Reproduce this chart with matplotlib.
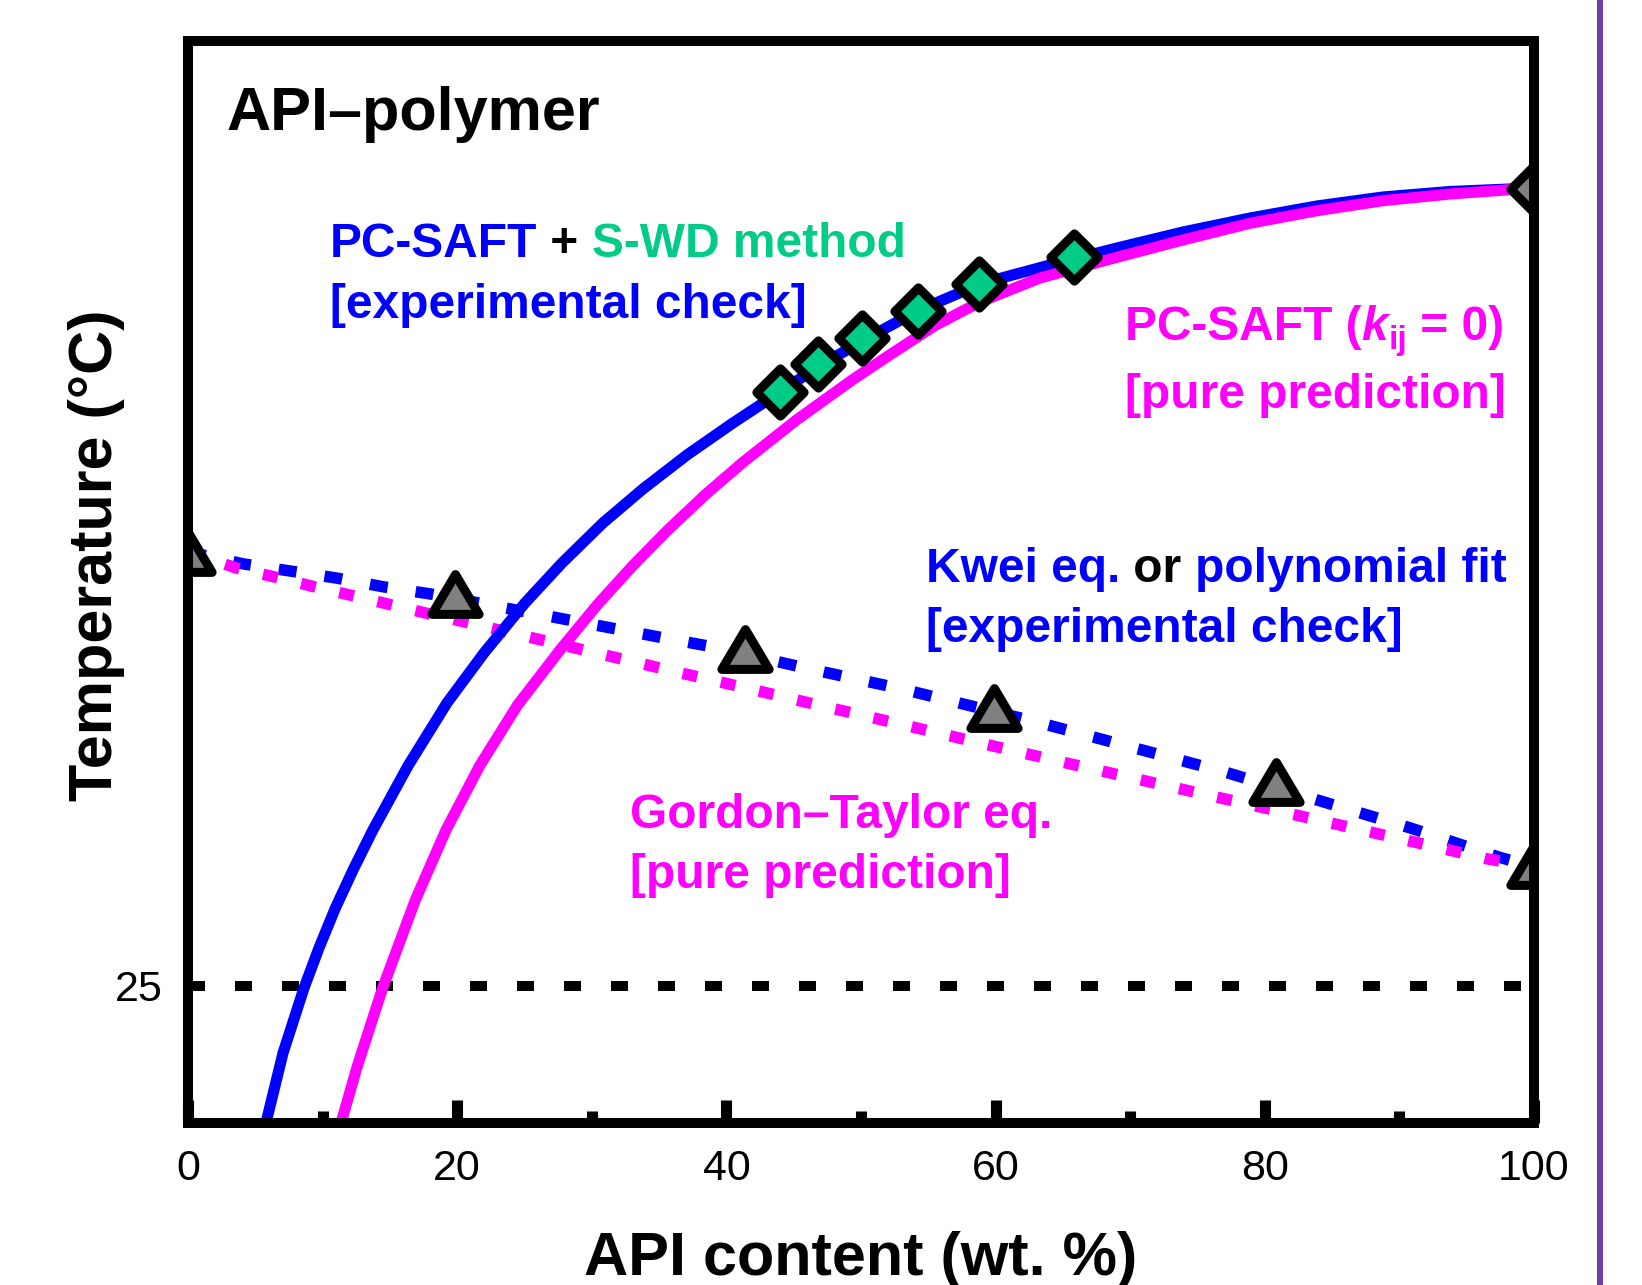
import matplotlib
matplotlib.use('Agg')
import matplotlib.pyplot as plt
from matplotlib.markers import MarkerStyle
from matplotlib.path import Path
from matplotlib.transforms import offset_copy
from matplotlib.lines import Line2D

plt.rcParams['font.family'] = ['Liberation Sans', 'DejaVu Sans']

# ---------------- data ----------------
# PC-SAFT + S-WD solubility line (blue, solid)
swd_x = [5.79, 7.06, 8.62, 9.73, 10.92, 12.26, 13.74, 16.34, 19.24, 21.99, 25.04,
         27.79, 30.83, 33.80, 37.07, 40.49, 43.98, 46.95, 50.37, 54.16, 59.06,
         64.04, 69.02, 73.92, 78.90, 83.88, 88.78, 93.76, 100.0]
swd_y = [0.0, 12.74, 24.58, 31.86, 38.96, 46.06, 53.35, 65.0, 76.47, 85.57, 94.68,
         101.96, 109.25, 115.43, 121.62, 127.45, 133.09, 137.92, 142.74, 147.84, 152.94,
         156.22, 159.31, 162.22, 164.77, 166.96, 168.60, 169.60, 170.24]

# PC-SAFT (kij = 0) solubility line (magenta, solid)
pred_x = [11.37, 12.56, 14.46, 16.89, 19.17, 21.66, 24.49, 27.64, 30.46, 33.06, 35.59,
          38.41, 41.23, 45.17, 49.41, 52.53, 55.50, 58.84, 63.30, 69.02, 73.92,
          78.90, 83.88, 88.78, 93.76, 100.0]
pred_y = [0.0, 10.20, 24.58, 40.60, 53.35, 65.0, 76.11, 86.12, 94.49, 101.50, 107.82,
          114.34, 120.29, 127.92, 135.39, 140.47, 145.20, 149.48, 153.85, 157.62, 160.77,
          163.81, 166.10, 167.92, 169.14, 170.24]

# S-WD solubility points (green diamonds)
swd_pts_x = [44.0, 46.8, 50.1, 54.2, 58.8, 65.8]
swd_pts_y = [133.0, 138.1, 142.9, 147.8, 152.8, 157.7]

# pure API melting point (grey diamond)
tm_x = [100.0]
tm_y = [170.1]

# Kwei eq. / polynomial fit (blue, dashed)
kwei_x = [0.0, 4.09, 7.58, 11.07, 14.56, 18.05, 21.55, 35.48, 38.97, 45.94, 52.9,
          62.9, 69.98, 77.1, 83.9, 90.7, 97.4, 100.0]
kwei_y = [104.0, 101.8, 100.5, 99.2, 97.6, 96.3, 94.7, 88.25, 86.7, 82.8, 79.1,
          73.1, 68.5, 63.85, 58.8, 53.8, 48.4, 46.6]

# Gordon-Taylor eq. (magenta, dotted)
gt_x = [0.0, 3.64, 6.46, 9.44, 12.33, 15.16, 17.9, 20.95, 35.9, 41.8, 47.3, 52.96,
        59.0, 64.8, 70.8, 76.3, 81.9, 87.8, 93.5, 96.5, 100.0]
gt_y = [104.0, 101.0, 99.4, 97.6, 95.95, 94.3, 92.7, 91.0, 82.35, 79.0, 75.8, 72.6,
        69.1, 65.8, 62.45, 59.4, 56.3, 53.0, 49.8, 48.1, 46.6]

# measured glass transition temperatures (grey triangles)
tg_x = [0.0, 19.8, 41.4, 59.9, 80.8, 100.0]
tg_y = [104.0, 96.35, 86.25, 75.6, 62.0, 47.0]

storage_T = 25
x_major = [0, 20, 40, 60, 80, 100]
x_minor = [10, 30, 50, 70, 90]
y_ticks = [25]

# ---------------- colours ----------------
BLUE = '#0000FF'
MAG = '#FF00FF'
GREEN = '#00CC88'
GREY = '#808080'
PURPLE = '#703CA0'

fig = plt.figure(figsize=(16.42, 12.85), dpi=100)
fig.patch.set_facecolor('white')
ax = fig.add_axes([0.1145, 0.1261, 0.8197, 0.842])
ax.set_xlim(0, 100)
ax.set_ylim(0, 197)

# lines
ax.plot([0, 100], [storage_T, storage_T], color='black', lw=7.2,
        linestyle=(0, (1.7, 3.0)), zorder=1)
ax.plot(kwei_x, kwei_y, color=BLUE, lw=8.3, linestyle=(0, (1.56, 2.45)), zorder=2)
ax.plot(gt_x, gt_y, color=MAG, lw=8.3, linestyle=(0, (1.3, 2.1)), zorder=2.1)
ax.plot(swd_x, swd_y, color=BLUE, lw=8, solid_capstyle='butt',
        solid_joinstyle='round', zorder=3)
ax.plot(pred_x, pred_y, color=MAG, lw=8, solid_capstyle='butt',
        solid_joinstyle='round', zorder=3.1)

tri_path = Path([(0, 0.842), (-1, -0.842), (1, -0.842), (0, 0.842)], closed=True)
dia_path = Path([(0, 1), (1, 0), (0, -1), (-1, 0), (0, 1)], closed=True)
tri = MarkerStyle(tri_path, joinstyle='round')
dia = MarkerStyle(dia_path, joinstyle='round')
ax.plot(tg_x, tg_y, linestyle='none', marker=tri, markersize=34,
        markerfacecolor=GREY, markeredgecolor='black', markeredgewidth=6.5, zorder=5)
ax.plot(swd_pts_x, swd_pts_y, linestyle='none', marker=dia, markersize=34,
        markerfacecolor=GREEN, markeredgecolor='black', markeredgewidth=6.5, zorder=5)
ax.plot(tm_x, tm_y, linestyle='none', marker=dia, markersize=34,
        markerfacecolor=GREY, markeredgecolor='black', markeredgewidth=6.5, zorder=5)

# axes styling
for sp in ax.spines.values():
    sp.set_linewidth(7.2)
    sp.set_zorder(6)
ax.set_xticks(x_major)
ax.set_xticks(x_minor, minor=True)
ax.set_xticklabels([str(v) for v in x_major])
ax.set_yticks(y_ticks)
ax.set_yticklabels([str(v) for v in y_ticks])
ax.tick_params(axis='x', which='major', direction='in', length=16.5, width=8,
               labelsize=31, pad=19, top=False)
ax.tick_params(axis='x', which='minor', direction='in', length=8.6, width=8, top=False)
ax.tick_params(axis='y', which='both', length=0, labelsize=31, pad=18.5, right=False)

ax.set_xlabel('API content (wt. %)', fontsize=44, fontweight='bold')
ax.xaxis.label.set_va('baseline')
ax.xaxis.set_label_coords(0.5, (1123 - 1275) / 1082)
ax.set_ylabel('Temperature (°C)', fontsize=44, fontweight='bold')
ax.yaxis.label.set_rotation_mode('anchor')
ax.yaxis.label.set_va('baseline')
ax.yaxis.label.set_ha('center')
ax.yaxis.set_label_coords((112 - 188) / 1346, (1123 - 555) / 1082)

# purple separator line at right
fig.add_artist(Line2D([1600 / 1642, 1600 / 1642], [0, 1], transform=fig.transFigure,
                      color=PURPLE, lw=4.3))

# ---------------- annotations ----------------
renderer = fig.canvas.get_renderer()


def text_width(s, props):
    t1 = fig.text(0, 0, '|' + s + '|', **props)
    t2 = fig.text(0, 0, '||', **props)
    w = t1.get_window_extent(renderer).width - t2.get_window_extent(renderer).width
    t1.remove()
    t2.remove()
    return w


def ax_frac(px, py):
    return (px - 188) / 1346, (1123 - py) / 1082


def rich_text(px, py, parts, size=34.5):
    x, y = ax_frac(px, py)
    dx = 0.0
    for part in parts:
        s, color = part[0], part[1]
        extra = part[2] if len(part) > 2 else {}
        props = dict(fontsize=extra.get('size', size), fontweight='bold',
                     fontstyle=extra.get('style', 'normal'), color=color)
        tr = offset_copy(ax.transAxes, fig=fig, x=dx, y=extra.get('dy', 0), units='dots')
        ax.text(x, y, s, transform=tr, ha='left', va='baseline', zorder=7, **props)
        dx += text_width(s, props)


rich_text(226, 130, [('API–polymer', 'black')], size=44)
rich_text(330, 257, [('PC-SAFT', BLUE), (' + ', 'black'), ('S-WD method', GREEN)])
rich_text(330, 318, [('[experimental check]', BLUE)])
rich_text(1125, 340, [('PC-SAFT (', MAG), ('k', MAG, {'style': 'italic'}),
                      ('ij', MAG, {'size': 24, 'dy': -9}), (' = 0)', MAG)])
rich_text(1125, 408, [('[pure prediction]', MAG)])
rich_text(926, 582, [('Kwei eq.', BLUE), (' or ', 'black'), ('polynomial fit', BLUE)])
rich_text(926, 642, [('[experimental check]', BLUE)])
rich_text(630, 828, [('Gordon–Taylor eq.', MAG)])
rich_text(630, 888, [('[pure prediction]', MAG)])

fig.savefig('out.png', dpi=100, facecolor='white')
